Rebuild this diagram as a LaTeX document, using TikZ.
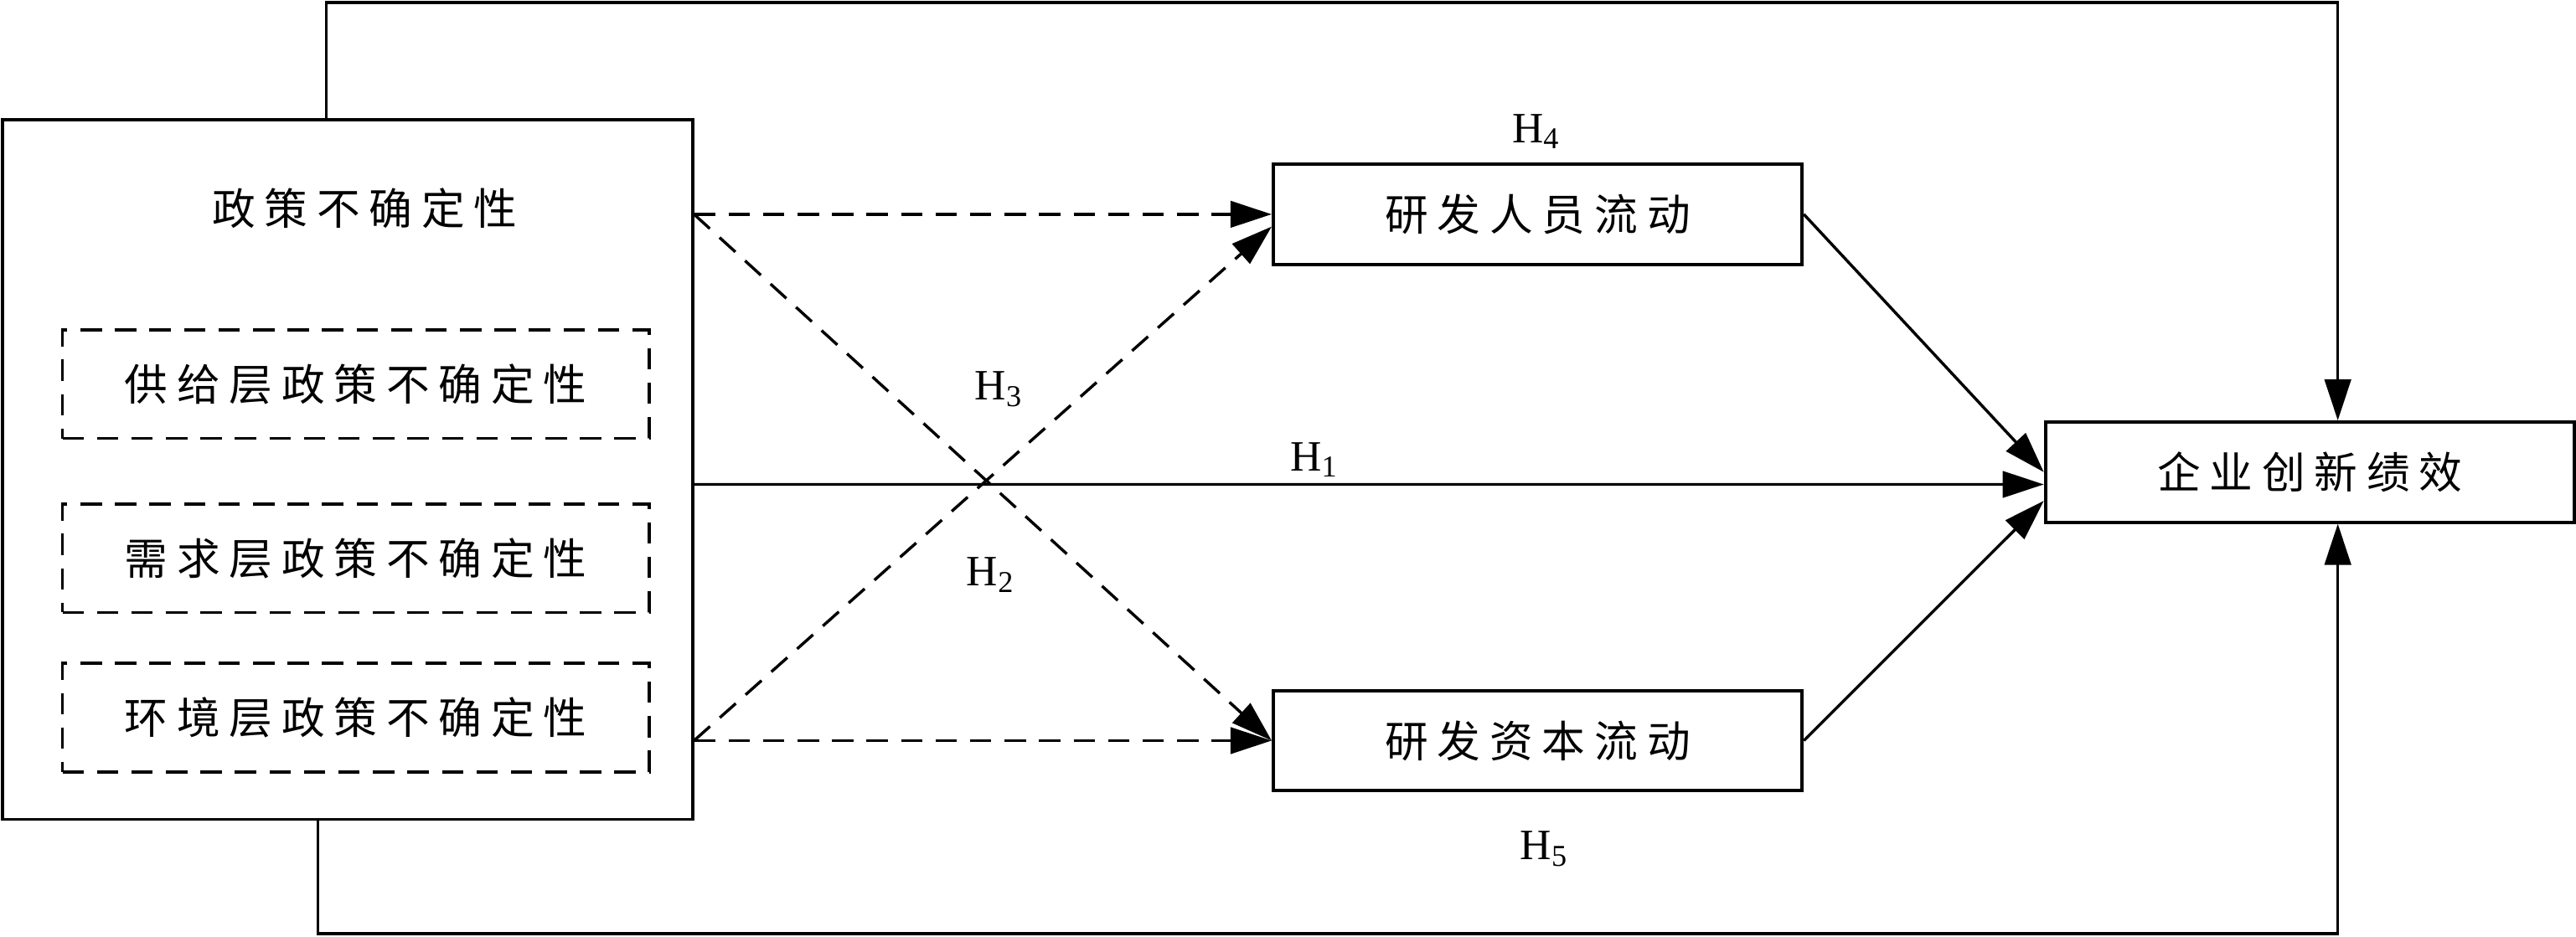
\documentclass[tikz,border=0pt]{standalone}
\usepackage{fontspec}
\setmainfont{Liberation Serif}
\newfontfamily\cjk[LetterSpace=21]{Noto Sans CJK SC}
\usetikzlibrary{arrows.meta}

\begin{document}
\begin{tikzpicture}[
  box/.style={shape=rectangle, draw=black, line width=1.1pt, minimum width=6.44cm, minimum height=1.22cm, font=\fontsize{15}{18}\cjk},
  dbox/.style={shape=rectangle, draw=black, line width=1.1pt, dash pattern=on 0.26cm off 0.16cm, minimum width=7.14cm, minimum height=1.32cm, font=\fontsize{15}{18}\cjk},
  hyp/.style={font=\fontsize{15}{18}\selectfont, inner sep=0pt},
  link/.style={-{Triangle[length=0.5cm,width=0.32cm]}, line width=1pt, draw=black},
  dlink/.style={link, dash pattern=on 0.26cm off 0.16cm}]
\useasboundingbox (0,0) rectangle (31.36,11.41);
\node[shape=rectangle, draw=black, line width=1.1pt, minimum width=8.40cm, minimum height=8.52cm] (P) at (4.23,5.69) {};
\node[font=\fontsize{15}{18}\cjk] (T) at (4.44,8.87) {政策不确定性};
\node[dbox] (S) at (4.33,6.73) {供给层政策不确定性};
\node[dbox] (D) at (4.33,4.61) {需求层政策不确定性};
\node[dbox] (E) at (4.33,2.67) {环境层政策不确定性};
\node[box] (M1) at (18.72,8.80) {研发人员流动};
\node[box] (M2) at (18.72,2.39) {研发资本流动};
\node[box] (Y) at (28.12,5.66) {企业创新绩效};
\node[hyp] (H4) at (18.70,9.81) {H\textsubscript{4}};
\node[hyp] (H1) at (16.00,5.81) {H\textsubscript{1}};
\node[hyp] (H3) at (12.16,6.67) {H\textsubscript{3}};
\node[hyp] (H2) at (12.06,4.41) {H\textsubscript{2}};
\node[hyp] (H5) at (18.80,1.07) {H\textsubscript{5}};
\path (P.east |- M1.west) edge[dlink] (M1.west);
\path (P.east |- M1.west) edge[dlink] (M2.west);
\path (P.east |- M2.west) edge[dlink] ([yshift=-0.15cm]M1.west);
\path (P.east |- M2.west) edge[dlink] (M2.west);
\path (P.east |- 0,5.51) edge[link] ([yshift=-0.15cm]Y.west);
\path (M1.east) edge[link] (Y.west);
\path (M2.east) edge[link] ([yshift=-0.35cm]Y.west);
\draw [link] ([xshift=-0.26cm]P.north) -- ++(0,1.41) -| ([xshift=0.34cm]Y.north);
\draw [link] ([xshift=-0.36cm]P.south) -- ++(0,-1.37) -| ([xshift=0.34cm]Y.south);
\end{tikzpicture}
\end{document}
